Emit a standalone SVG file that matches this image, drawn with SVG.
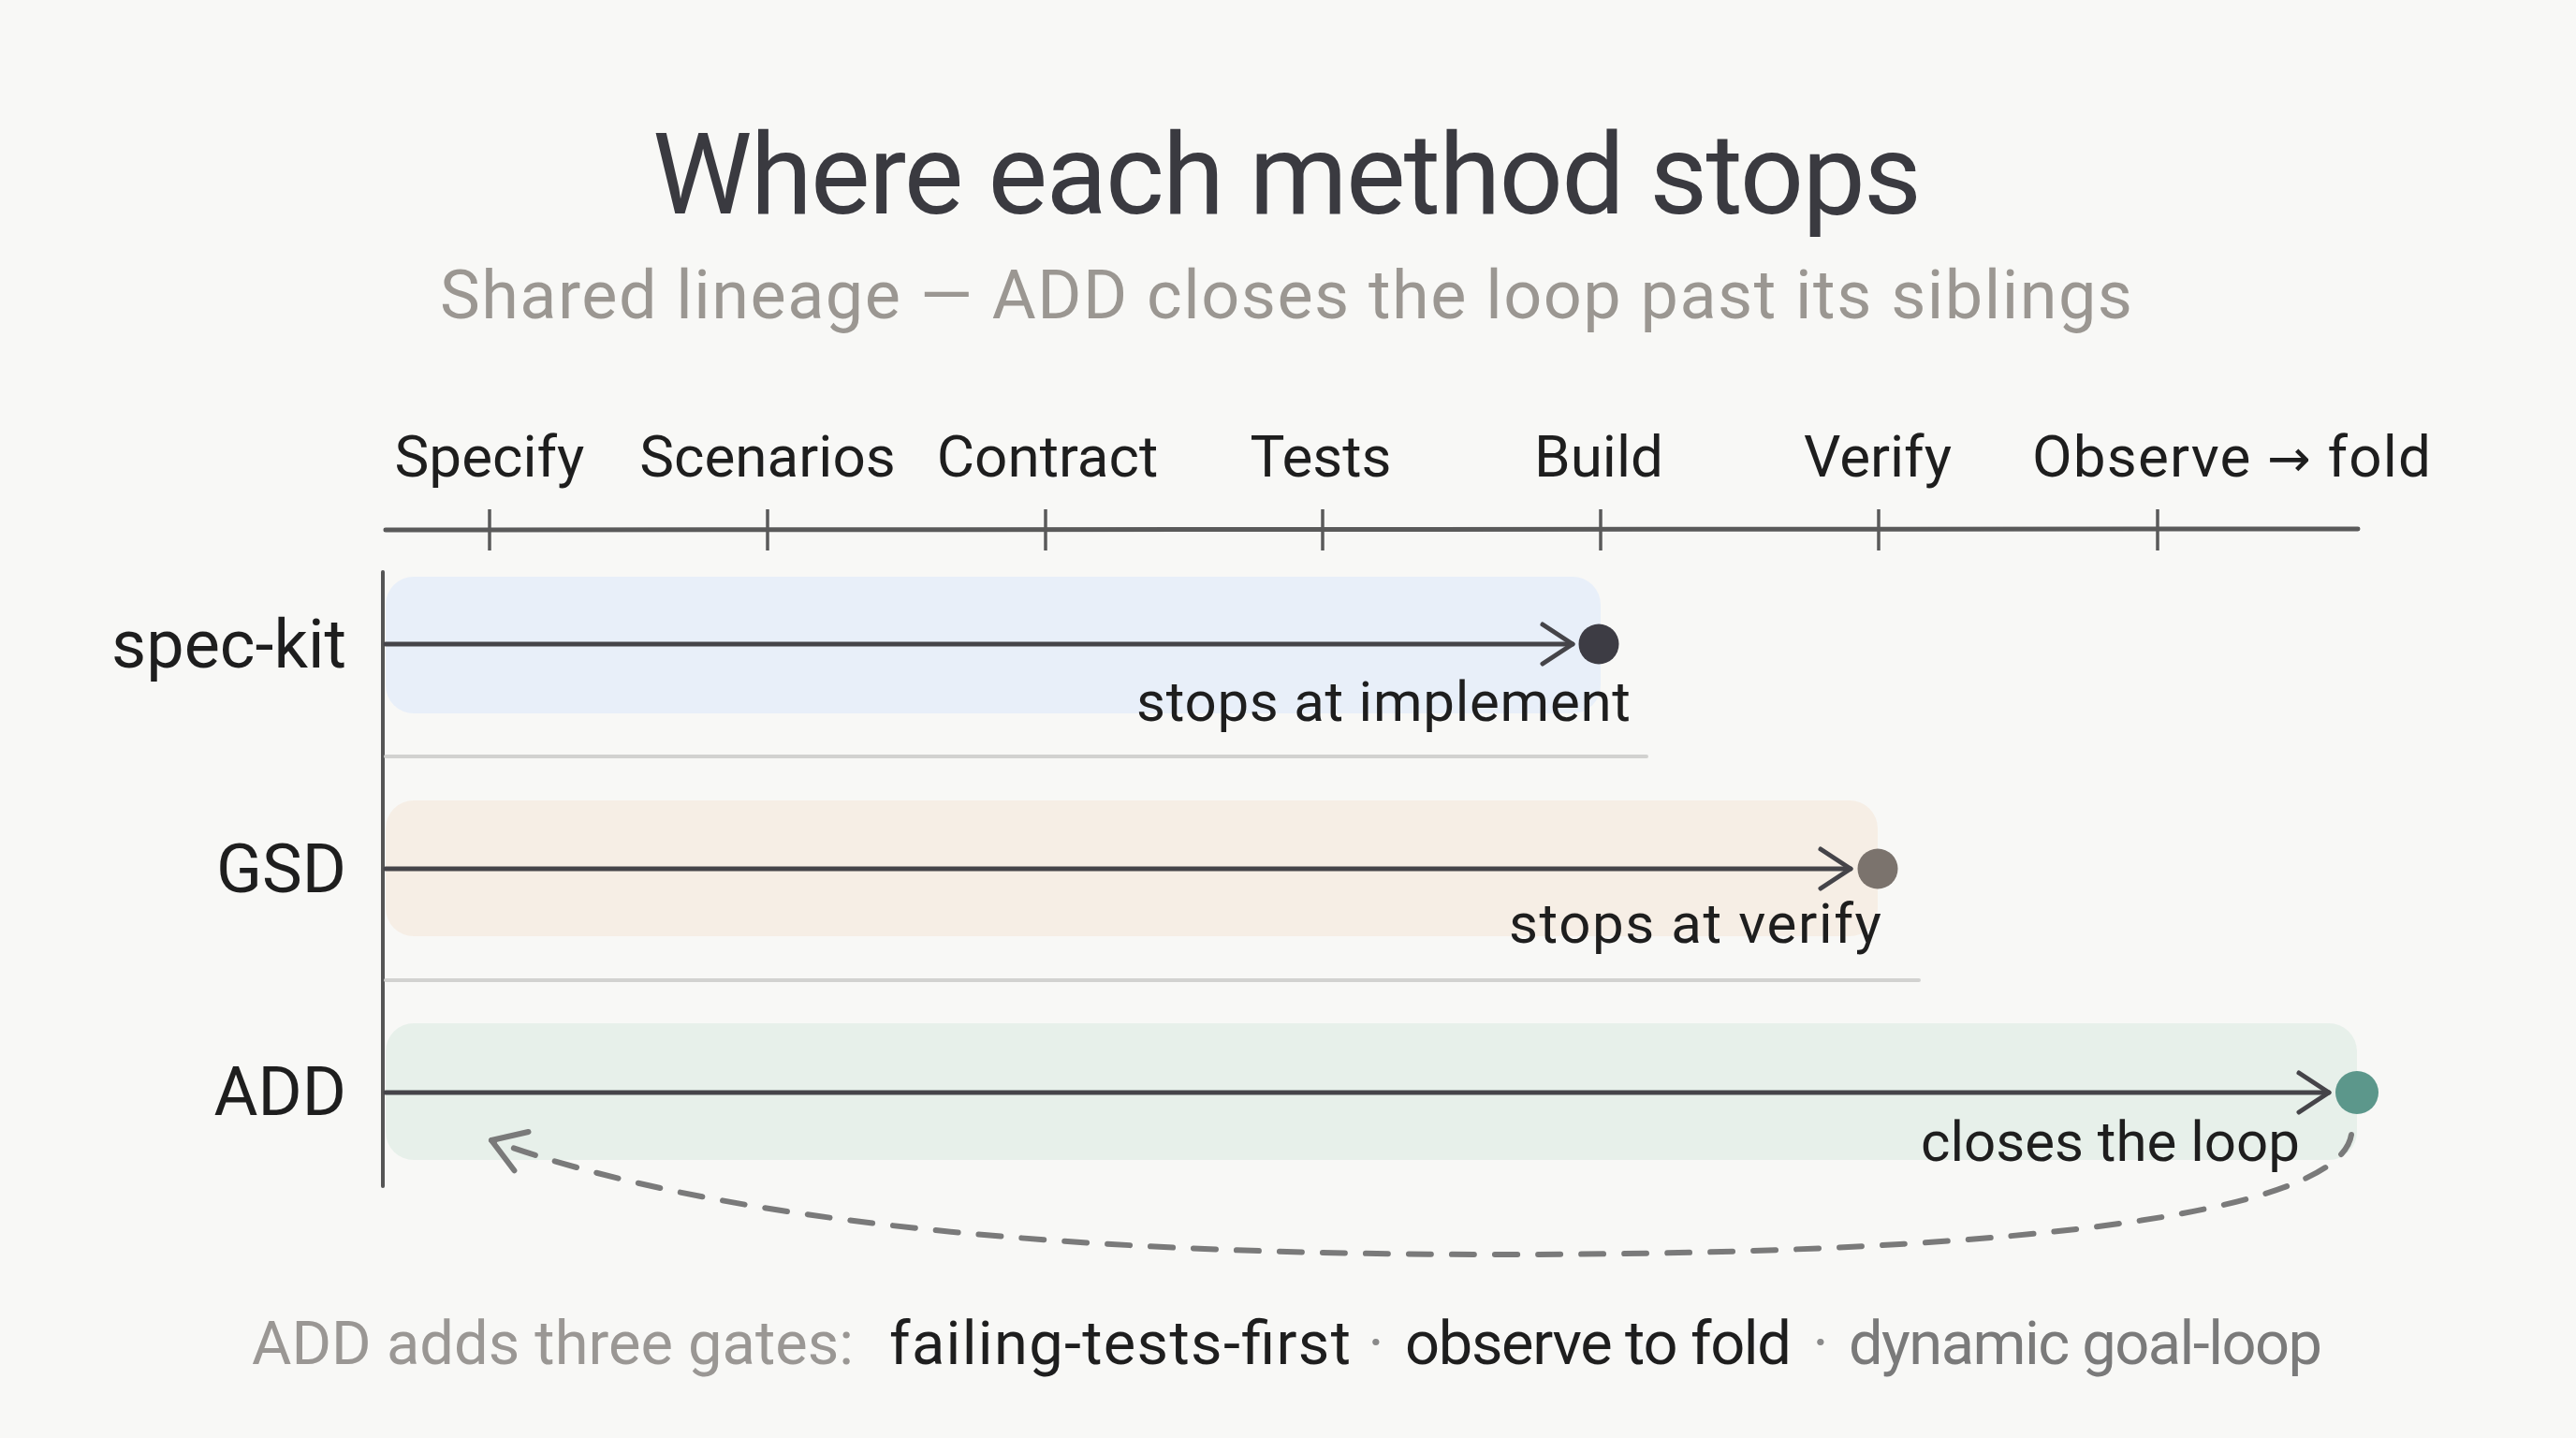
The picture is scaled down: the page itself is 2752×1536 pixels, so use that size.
<svg xmlns="http://www.w3.org/2000/svg" width="2752" height="1536" viewBox="0 0 2752 1536">
  <defs>
    <style>
      text { font-family: Roboto, "Noto Sans", sans-serif; }
      .title { font-size: 120px; fill: #3a3a40; text-anchor: middle; }
      .sub { font-size: 72px; fill: #9b9792; text-anchor: middle; }
      .step { font-size: 62px; fill: #1e1e1e; text-anchor: middle; }
      .arr { font-family: "DejaVu Sans", sans-serif; font-size: 56px; }
      .rowlbl { font-size: 72px; fill: #1e1e1e; text-anchor: end; }
      .note { font-size: 60px; fill: #1e1e1e; text-anchor: end; }
      .foot { font-size: 65px; }
      .axis { stroke: #5a5a5a; stroke-width: 5; fill: none; stroke-linecap: round; }
      .tick { stroke: #5a5a5a; stroke-width: 3.5; }
      .sep { stroke: #d2d2d0; stroke-width: 4; stroke-linecap: round; }
      .flow { stroke: #454449; stroke-width: 5; fill: none; stroke-linecap: round; }
      .loop { stroke: #7a7a7a; stroke-width: 6; fill: none; stroke-linecap: round; stroke-dasharray: 24 22; }
    </style>
    <marker id="chev" markerUnits="userSpaceOnUse" viewBox="-40 -30 50 60" markerWidth="50" markerHeight="60" refX="0" refY="0" orient="auto" overflow="visible">
      <path d="M-32,-21 L0,0 L-32,21" fill="none" stroke="#454449" stroke-width="5" stroke-linecap="round" stroke-linejoin="round" stroke-dasharray="none"/>
    </marker>
    <marker id="chevLoop" markerUnits="userSpaceOnUse" viewBox="-40 -30 50 60" markerWidth="50" markerHeight="60" refX="0" refY="0" orient="auto" overflow="visible">
      <path d="M-34,-22 L0,0 L-34,22" fill="none" stroke="#7a7a7a" stroke-width="6" stroke-linecap="round" stroke-linejoin="round" stroke-dasharray="none"/>
    </marker>
  </defs>

  <rect x="0" y="0" width="2752" height="1536" fill="#f8f8f6"/>

  <g id="header">
    <text class="title" x="1375" y="228" textLength="1356">Where each method stops</text>
    <text class="sub" x="1374" y="340" textLength="1808">Shared lineage — ADD closes the loop past its siblings</text>
  </g>

  <g id="timeline-axis">
    <path class="axis" d="M412,566 L2519,565"/>
    <line class="tick" x1="523" y1="544" x2="523" y2="588"/>
    <line class="tick" x1="820" y1="544" x2="820" y2="588"/>
    <line class="tick" x1="1117" y1="544" x2="1117" y2="588"/>
    <line class="tick" x1="1413" y1="544" x2="1413" y2="588"/>
    <line class="tick" x1="1710" y1="544" x2="1710" y2="588"/>
    <line class="tick" x1="2007" y1="544" x2="2007" y2="588"/>
    <line class="tick" x1="2305" y1="544" x2="2305" y2="588"/>
    <text class="step" x="523" y="509">Specify</text>
    <text class="step" x="820" y="509">Scenarios</text>
    <text class="step" x="1119" y="509">Contract</text>
    <text class="step" x="1411" y="509">Tests</text>
    <text class="step" x="1708" y="509">Build</text>
    <text class="step" x="2006" y="509">Verify</text>
    <text class="step" x="2384" y="509" textLength="426">Observe <tspan class="arr">→</tspan> fold</text>
    <line x1="409" y1="611" x2="409" y2="1267" stroke="#555" stroke-width="4" stroke-linecap="round"/>
  </g>

  <g id="row-spec-kit">
    <rect x="412" y="616" width="1298" height="146" rx="30" fill="#e8eff9"/>
    <text class="rowlbl" x="370" y="713">spec-kit</text>
    <circle cx="1708" cy="688" r="21.5" fill="#3d3c44"/>
    <text class="note" x="1742" y="770" textLength="528">stops at implement</text>
    <line class="sep" x1="412" y1="808" x2="1759" y2="808"/>
  </g>

  <g id="row-gsd">
    <rect x="412" y="855" width="1594" height="145" rx="30" fill="#f6eee5"/>
    <text class="rowlbl" x="370" y="953">GSD</text>
    <circle cx="2006" cy="928" r="21.5" fill="#7b736d"/>
    <text class="note" x="2010" y="1007" textLength="398">stops at verify</text>
    <line class="sep" x1="412" y1="1047" x2="2050" y2="1047"/>
  </g>

  <g id="row-add">
    <rect x="412" y="1093" width="2106" height="146" rx="30" fill="#e7f0ea"/>
    <text class="rowlbl" x="370" y="1191">ADD</text>
    <circle cx="2518" cy="1167" r="23" fill="#5c978b"/>
    <text class="note" x="2457" y="1240" textLength="405">closes the loop</text>
  </g>

  <g id="connectors">
    <path class="flow" d="M412,688 L1680,688" marker-end="url(#chev)"/>
    <path class="flow" d="M412,928 L1977,928" marker-end="url(#chev)"/>
    <path class="flow" d="M412,1167 L2488,1167" marker-end="url(#chev)"/>
    <path class="loop" d="M2512,1212 C2500,1290 2200,1340 1600,1340 C1100,1340 750,1300 525,1218" marker-end="url(#chevLoop)"/>
  </g>

  <g id="footer">
    <text class="foot" x="269" y="1457" textLength="643" fill="#9a9794">ADD adds three gates:</text>
    <text class="foot" x="950" y="1457" textLength="493" fill="#1e1e1e">failing-tests-first</text>
    <text class="foot" x="1470" y="1457" text-anchor="middle" fill="#8a8a8a">·</text>
    <text class="foot" x="1501" y="1457" textLength="413" fill="#1e1e1e">observe to fold</text>
    <text class="foot" x="1945" y="1457" text-anchor="middle" fill="#8a8a8a">·</text>
    <text class="foot" x="1975" y="1457" textLength="506" fill="#7a7a7a">dynamic goal-loop</text>
  </g>
</svg>
